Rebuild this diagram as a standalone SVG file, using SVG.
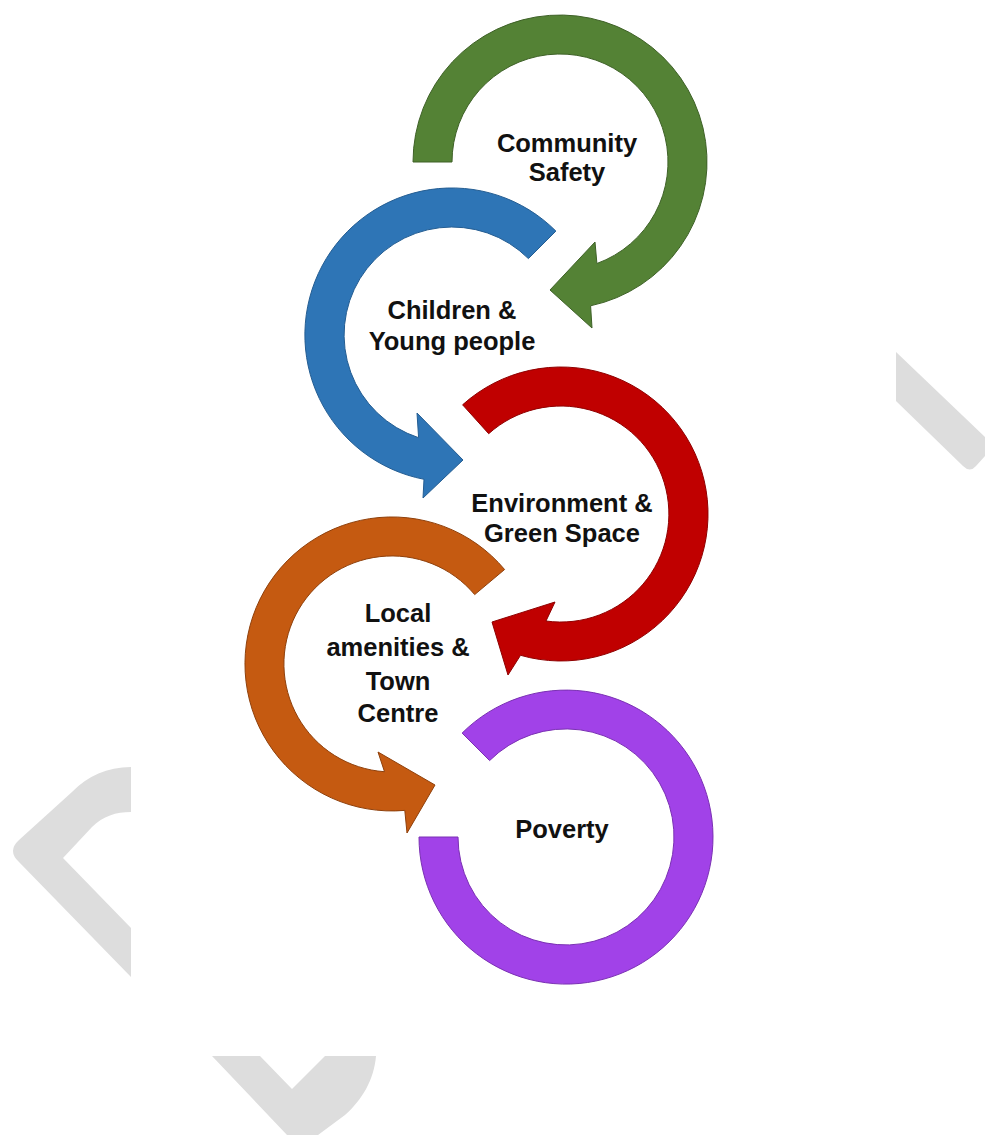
<svg xmlns="http://www.w3.org/2000/svg" width="985" height="1135" viewBox="0 0 985 1135">
<style>
.bg{fill:#dddddd}
.lbl{font-family:"Liberation Sans",Arial,sans-serif;font-weight:bold;font-size:25.5px;fill:#111111;text-anchor:middle}
.green{fill:#548235;stroke:#3e6127;stroke-width:1}
.blue{fill:#2e75b6;stroke:#245d92;stroke-width:1}
.red{fill:#c00000;stroke:#8f0000;stroke-width:1}
.orange{fill:#c55a11;stroke:#8f400b;stroke-width:1}
.purple{fill:#a142e8;stroke:#7a30b3;stroke-width:1}
</style>
<rect width="985" height="1135" fill="#ffffff"/>
<g id="decor">
<path class="bg" d="M896 352 L985 437 L985 456 L976 466 Q970 473 963 466 L896 401 Z"/>
<path class="bg" d="M131 767 C107 767 88 776 72 792 L19 840 Q7 851 19 862 L131 977 L131 928 L63 858 L92 827 C103 816 116 812 131 812 Z"/>
<path class="bg" d="M212 1056 L260 1056 L292 1089 L325 1056 L376 1056 C374 1080 362 1100 345 1115 L318 1135 L287 1135 Z"/>
</g>
<g id="connectors"></g>
<g id="community-safety">
<path class="green" d="M413 162 A147 147 0 1 1 590.6 305.8 L592 328 L550 290 L595 242 L596.9 263.5 A108 108 0 1 0 452 162 Z"/>
<text class="lbl" x="567" y="152">Community</text>
<text class="lbl" x="567" y="181">Safety</text>
</g>
<g id="children-young-people">
<path class="blue" d="M555.9 231.1 A147 147 0 1 0 424 479.3 L423 498 L463 460 L417 413 L418.6 437.7 A108 108 0 1 1 528.4 258.6 Z"/>
<text class="lbl" x="452" y="319">Children &amp;</text>
<text class="lbl" x="452" y="350">Young people</text>
</g>
<g id="environment-green-space">
<path class="red" d="M462.6 404.8 A147 147 0 1 1 520.5 655.3 L508 675 L492 622 L555 602 L546 621 A108 108 0 1 0 488.7 433.7 Z"/>
<text class="lbl" x="562" y="512">Environment &amp;</text>
<text class="lbl" x="562" y="542">Green Space</text>
</g>
<g id="local-amenities-town-centre">
<path class="orange" d="M504.6 569.5 A147 147 0 1 0 404.8 810.4 L407 833 L435 785 L378 752 L384.5 771.7 A108 108 0 1 1 474.7 594.6 Z"/>
<text class="lbl" x="398" y="622">Local</text>
<text class="lbl" x="398" y="656">amenities &amp;</text>
<text class="lbl" x="398" y="690">Town</text>
<text class="lbl" x="398" y="722">Centre</text>
</g>
<g id="poverty">
<path class="purple" d="M462.1 733.1 A147 147 0 1 1 419 837 L458 837 A108 108 0 1 0 489.6 760.6 Z"/>
<text class="lbl" x="562" y="838">Poverty</text>
</g>
</svg>
